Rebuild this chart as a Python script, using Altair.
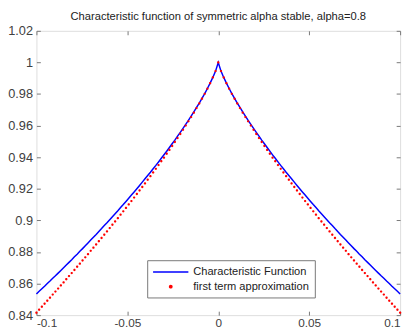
import altair as alt
import pandas as pd

# time grid (t), characteristic function exp(-|t|^0.8) and first-term approx 1-|t|^0.8
t_values = [
    -0.10000, -0.09851, -0.09701, -0.09552, -0.09403, -0.09254, -0.09104, -0.08955, -0.08806, -0.08657,
    -0.08507, -0.08358, -0.08209, -0.08060, -0.07910, -0.07761, -0.07612, -0.07463, -0.07313, -0.07164,
    -0.07015, -0.06866, -0.06716, -0.06567, -0.06418, -0.06269, -0.06119, -0.05970, -0.05821, -0.05672,
    -0.05522, -0.05373, -0.05224, -0.05075, -0.04925, -0.04776, -0.04627, -0.04478, -0.04328, -0.04179,
    -0.04030, -0.03881, -0.03731, -0.03582, -0.03433, -0.03284, -0.03134, -0.02985, -0.02836, -0.02687,
    -0.02537, -0.02388, -0.02239, -0.02090, -0.01940, -0.01791, -0.01642, -0.01493, -0.01343, -0.01194,
    -0.01045, -0.00896, -0.00746, -0.00597, -0.00448, -0.00299, -0.00149,
    0.0,
    0.00149, 0.00299, 0.00448, 0.00597, 0.00746, 0.00896, 0.01045, 0.01194, 0.01343, 0.01493,
    0.01642, 0.01791, 0.01940, 0.02090, 0.02239, 0.02388, 0.02537, 0.02687, 0.02836, 0.02985,
    0.03134, 0.03284, 0.03433, 0.03582, 0.03731, 0.03881, 0.04030, 0.04179, 0.04328, 0.04478,
    0.04627, 0.04776, 0.04925, 0.05075, 0.05224, 0.05373, 0.05522, 0.05672, 0.05821, 0.05970,
    0.06119, 0.06269, 0.06418, 0.06567, 0.06716, 0.06866, 0.07015, 0.07164, 0.07313, 0.07463,
    0.07612, 0.07761, 0.07910, 0.08060, 0.08209, 0.08358, 0.08507, 0.08657, 0.08806, 0.08955,
    0.09104, 0.09254, 0.09403, 0.09552, 0.09701, 0.09851, 0.10000,
]

char_fn_values = [
    0.8534, 0.8551, 0.8567, 0.8583, 0.8600, 0.8616, 0.8633, 0.8649, 0.8666, 0.8683,
    0.8700, 0.8717, 0.8734, 0.8751, 0.8769, 0.8786, 0.8804, 0.8821, 0.8839, 0.8857,
    0.8875, 0.8893, 0.8911, 0.8930, 0.8948, 0.8967, 0.8985, 0.9004, 0.9023, 0.9042,
    0.9061, 0.9081, 0.9100, 0.9120, 0.9140, 0.9160, 0.9180, 0.9200, 0.9221, 0.9242,
    0.9263, 0.9284, 0.9305, 0.9327, 0.9348, 0.9370, 0.9393, 0.9415, 0.9438, 0.9461,
    0.9485, 0.9508, 0.9533, 0.9557, 0.9582, 0.9608, 0.9633, 0.9660, 0.9687, 0.9715,
    0.9743, 0.9773, 0.9803, 0.9835, 0.9869, 0.9905, 0.9945,
    1.0,
    0.9945, 0.9905, 0.9869, 0.9835, 0.9803, 0.9773, 0.9743, 0.9715, 0.9687, 0.9660,
    0.9633, 0.9608, 0.9582, 0.9557, 0.9533, 0.9508, 0.9485, 0.9461, 0.9438, 0.9415,
    0.9393, 0.9370, 0.9348, 0.9327, 0.9305, 0.9284, 0.9263, 0.9242, 0.9221, 0.9200,
    0.9180, 0.9160, 0.9140, 0.9120, 0.9100, 0.9081, 0.9061, 0.9042, 0.9023, 0.9004,
    0.8985, 0.8967, 0.8948, 0.8930, 0.8911, 0.8893, 0.8875, 0.8857, 0.8839, 0.8821,
    0.8804, 0.8786, 0.8769, 0.8751, 0.8734, 0.8717, 0.8700, 0.8683, 0.8666, 0.8649,
    0.8633, 0.8616, 0.8600, 0.8583, 0.8567, 0.8551, 0.8534,
]

approx_values = [
    0.8415, 0.8434, 0.8453, 0.8472, 0.8491, 0.8510, 0.8530, 0.8549, 0.8568, 0.8588,
    0.8607, 0.8627, 0.8647, 0.8666, 0.8686, 0.8706, 0.8726, 0.8746, 0.8766, 0.8786,
    0.8807, 0.8827, 0.8847, 0.8868, 0.8888, 0.8909, 0.8930, 0.8951, 0.8972, 0.8993,
    0.9014, 0.9036, 0.9057, 0.9079, 0.9101, 0.9122, 0.9144, 0.9167, 0.9189, 0.9211,
    0.9234, 0.9257, 0.9280, 0.9303, 0.9326, 0.9350, 0.9374, 0.9397, 0.9422, 0.9446,
    0.9471, 0.9496, 0.9521, 0.9547, 0.9573, 0.9600, 0.9627, 0.9654, 0.9682, 0.9711,
    0.9740, 0.9770, 0.9801, 0.9834, 0.9868, 0.9905, 0.9945,
    1.0,
    0.9945, 0.9905, 0.9868, 0.9834, 0.9801, 0.9770, 0.9740, 0.9711, 0.9682, 0.9654,
    0.9627, 0.9600, 0.9573, 0.9547, 0.9521, 0.9496, 0.9471, 0.9446, 0.9422, 0.9397,
    0.9374, 0.9350, 0.9326, 0.9303, 0.9280, 0.9257, 0.9234, 0.9211, 0.9189, 0.9167,
    0.9144, 0.9122, 0.9101, 0.9079, 0.9057, 0.9036, 0.9014, 0.8993, 0.8972, 0.8951,
    0.8930, 0.8909, 0.8888, 0.8868, 0.8847, 0.8827, 0.8807, 0.8786, 0.8766, 0.8746,
    0.8726, 0.8706, 0.8686, 0.8666, 0.8647, 0.8627, 0.8607, 0.8588, 0.8568, 0.8549,
    0.8530, 0.8510, 0.8491, 0.8472, 0.8453, 0.8434, 0.8415,
]

series_names = ["Characteristic Function", "first term approximation"]
series_colors = ["#0000ff", "#ff0000"]
x_ticks = [-0.1, -0.05, 0, 0.05, 0.1]
y_ticks = [0.84, 0.86, 0.88, 0.9, 0.92, 0.94, 0.96, 0.98, 1.0, 1.02]
title_text = "Characteristic function of symmetric alpha stable, alpha=0.8"

df_line = pd.DataFrame({"t": t_values, "v": char_fn_values, "s": series_names[0]})
df_dot = pd.DataFrame({"t": t_values, "v": approx_values, "s": series_names[1]})

FONT = "Liberation Sans"
AX = "#777777"
LBL = "#404040"

xscale = alt.Scale(domain=[-0.1, 0.1], nice=False, zero=False)
yscale = alt.Scale(domain=[0.84, 1.02], nice=False, zero=False)

# legend symbols: a 36px stroke for the line, a small dot centred on it for the points
SYM_SIZE = 144  # r = 6 px in symbol units
line_sym = "M-1,0H5"
dot_sym = "M1.8,0A0.2,0.2 0 1,0 2.2,0A0.2,0.2 0 1,0 1.8,0Z"

legend = alt.Legend(
    title=None, orient="none", legendX=113, legendY=234,
    strokeColor=AX, fillColor="white", padding=5,
    symbolSize=SYM_SIZE, symbolStrokeWidth=1.5, labelOffset=28,
    labelFont=FONT, labelFontSize=11.3, labelColor="#222222", rowPadding=2,
)
color = alt.Color("s:N", scale=alt.Scale(domain=series_names, range=series_colors), legend=legend)
shape = alt.Shape("s:N", scale=alt.Scale(domain=series_names, range=[line_sym, dot_sym]), legend=legend)

minus_fix = "replace(format(datum.value, '~g'), '\u2212', '-')"

x_bottom = alt.Axis(orient="bottom", values=x_ticks, offset=-4, tickSize=4, tickColor=AX, domain=False,
                    grid=False, labelExpr=minus_fix, labelPadding=3, labelFont=FONT, labelFontSize=12,
                    labelColor=LBL, title=None)
y_left = alt.Axis(orient="left", values=y_ticks, offset=-4, tickSize=4, tickColor=AX, domain=False,
                  grid=False, labelExpr=minus_fix, labelPadding=4, labelFont=FONT, labelFontSize=13,
                  labelColor=LBL, title=None)
x_top = alt.Axis(orient="top", values=x_ticks, offset=-4, tickSize=4, tickColor=AX, domain=False,
                 grid=False, labels=False, title=None)
y_right = alt.Axis(orient="right", values=y_ticks, offset=-4, tickSize=4, tickColor=AX, domain=False,
                   grid=False, labels=False, title=None)

line = alt.Chart(df_line).mark_line(strokeWidth=1.5).encode(
    x=alt.X("t:Q", scale=xscale, axis=x_bottom),
    y=alt.Y("v:Q", scale=yscale, axis=y_left),
    color=color,
)
# the dot symbol path is offset by 2r in x; shift the marks back so each dot sits on its data point
dots = alt.Chart(df_dot).mark_point(filled=True, size=SYM_SIZE, opacity=1, xOffset=-12).encode(
    x=alt.X("t:Q", scale=xscale, axis=x_top),
    y=alt.Y("v:Q", scale=yscale, axis=y_right),
    color=color,
    shape=shape,
)

chart = alt.layer(line, dots).resolve_axis(x="independent", y="independent").properties(
    width=371, height=290,
    title=alt.TitleParams(title_text, font=FONT, fontSize=11.4, fontWeight="normal", color="#222222",
                          anchor="middle", offset=3),
    autosize=alt.AutoSizeParams(type="none"),
    padding={"left": 29, "top": 20, "right": 6, "bottom": 18},
).configure_view(stroke=AX, strokeWidth=1).configure(background="white")

chart.save("out.html", embed_options={"renderer": "svg", "actions": False})
